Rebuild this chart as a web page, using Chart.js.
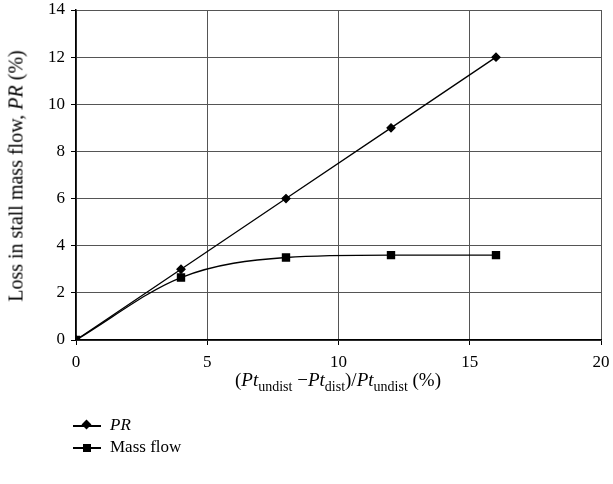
<!DOCTYPE html>
<html>
<head>
<meta charset="utf-8">
<script src="https://cdn.jsdelivr.net/npm/chart.js@4/dist/chart.umd.min.js"></script>
<style>
  html, body { margin: 0; padding: 0; background: #fff; }
  #wrap { position: relative; width: 613px; height: 484px; font-family: "Liberation Serif", "DejaVu Serif", serif; color: #000; }
  #c { position: absolute; left: 0; top: 0; }
  .ytitle { position: absolute; left: 16px; top: 176px; transform: translate(-50%, -50%) rotate(-90deg); white-space: nowrap; font-size: 20px; }
  .xtitle { position: absolute; left: 338px; top: 382px; transform: translate(-50%, -50%); white-space: nowrap; font-size: 19px; }
  .xtitle sub { font-size: 14px; vertical-align: -5px; }
  .legend { position: absolute; left: 73px; top: 414px; font-size: 17px; }
  .item { position: relative; height: 22px; line-height: 22px; padding-left: 37px; }
  .item .ln { position: absolute; left: 0; top: 11px; width: 28px; height: 1.5px; background: #000; }
  .item .dia { position: absolute; left: 10px; top: 7px; width: 7px; height: 7px; background: #000; transform: rotate(45deg); }
  .item .sq { position: absolute; left: 10px; top: 8px; width: 8px; height: 8px; background: #000; }
</style>
</head>
<body>
<div id="wrap">
  <canvas id="c" width="613" height="484"></canvas>
  <div class="ytitle">Loss in stall mass flow, <i>PR</i> (%)</div>
  <div class="xtitle">(<i>P</i><i>t</i><sub>undist</sub> −<i>P</i><i>t</i><sub>dist</sub>)/<i>P</i><i>t</i><sub>undist</sub> (%)</div>
  <div class="legend">
    <div class="item"><span class="ln"></span><span class="dia"></span><i>PR</i></div>
    <div class="item"><span class="ln"></span><span class="sq"></span>Mass flow</div>
  </div>
</div>
<script>
const xValues = [0, 4, 8, 12, 16];
const prValues = [0, 3, 6, 9, 12];
const massFlowValues = [0, 2.65, 3.5, 3.6, 3.6];
const seriesNames = ["PR", "Mass flow"];

const toPoints = (xs, ys) => xs.map((x, i) => ({ x: x, y: ys[i] }));
const tickFont = { family: "'Liberation Serif', serif", size: 17 };

new Chart(document.getElementById('c'), {
  type: 'line',
  data: {
    datasets: [
      {
        label: seriesNames[0],
        data: toPoints(xValues, prValues),
        borderColor: '#000', backgroundColor: '#000', borderWidth: 1.3,
        pointStyle: 'rectRot', pointRadius: 4, pointHoverRadius: 4,
        tension: 0
      },
      {
        label: seriesNames[1],
        data: toPoints(xValues, massFlowValues),
        borderColor: '#000', backgroundColor: '#000', borderWidth: 1.3,
        pointStyle: 'rect', pointRadius: 5, pointHoverRadius: 5,
        cubicInterpolationMode: 'monotone'
      }
    ]
  },
  options: {
    responsive: false,
    animation: false,
    events: [],
    layout: { padding: { left: 0, right: 12, top: 10, bottom: 0 } },
    plugins: { legend: { display: false }, tooltip: { enabled: false } },
    scales: {
      x: {
        type: 'linear', min: 0, max: 20,
        ticks: { stepSize: 5, color: '#000', font: tickFont, padding: 7, maxRotation: 0 },
        grid: { color: '#555', lineWidth: 1, tickLength: 5, tickColor: '#000' },
        border: { color: '#000', width: 1.5 },
        afterFit: s => { s.height = 144; s.paddingLeft = 0; s.paddingRight = 0; }
      },
      y: {
        type: 'linear', min: 0, max: 14,
        ticks: { stepSize: 2, color: '#000', font: tickFont, padding: 6 },
        grid: { color: '#555', lineWidth: 1, tickLength: 5, tickColor: '#000' },
        border: { color: '#000', width: 1.5 },
        afterFit: s => { s.width = 76; s.paddingTop = 0; s.paddingBottom = 0; }
      }
    }
  }
});
</script>
</body>
</html>
